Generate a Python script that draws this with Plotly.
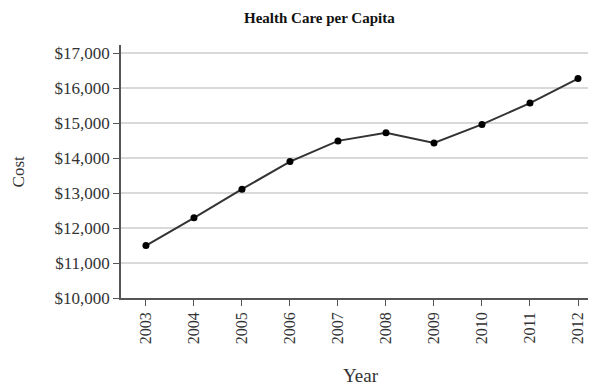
import plotly.graph_objects as go

years = ["2003", "2004", "2005", "2006", "2007", "2008", "2009", "2010", "2011", "2012"]
cost = [11500, 12290, 13110, 13900, 14490, 14720, 14430, 14960, 15570, 16270]
y_ticks = [10000, 11000, 12000, 13000, 14000, 15000, 16000, 17000]
y_tick_labels = ["$10,000", "$11,000", "$12,000", "$13,000", "$14,000", "$15,000", "$16,000", "$17,000"]

font = "Liberation Serif"
fig = go.Figure(go.Scatter(
    x=list(range(len(years))), y=cost, mode="lines+markers",
    line=dict(color="#333333", width=2),
    marker=dict(color="#000000", size=7),
))
fig.update_layout(
    width=588, height=379,
    margin=dict(l=113, r=0, t=37, b=89),
    paper_bgcolor="white", plot_bgcolor="white",
    font=dict(family=font, color="#333333", size=16),
    showlegend=False,
    annotations=[
        dict(text="<b>Health Care per Capita</b>", xref="paper", yref="paper", x=0.417, y=1.107,
             xanchor="center", yanchor="middle", showarrow=False,
             font=dict(family=font, size=15, color="#111111")),
        dict(text="Year", xref="paper", yref="paper", x=0.505, y=-0.305,
             xanchor="center", yanchor="middle", showarrow=False,
             font=dict(family=font, size=19, color="#333333")),
        dict(text="Cost", xref="paper", yref="paper", x=-0.238, y=0.498, textangle=-90,
             xanchor="left", yanchor="middle", showarrow=False, borderpad=0,
             font=dict(family=font, size=17, color="#333333")),
    ],
)
fig.update_xaxes(
    tickmode="array", tickvals=list(range(len(years))), ticktext=years, tickangle=-90,
    range=[-0.52, 9.375], showgrid=False, zeroline=False,
    showline=True, linecolor="#555555", linewidth=1.5,
    ticks="outside", ticklen=6, tickcolor="#555555",
    tickfont=dict(family=font, size=16, color="#333333"),
)
fig.update_yaxes(
    tickmode="array", tickvals=y_ticks, ticktext=y_tick_labels, range=[10000, 17230],
    showgrid=True, gridcolor="#d9d9d9", gridwidth=1.5, zeroline=False,
    showline=True, linecolor="#555555", linewidth=1.5,
    ticks="outside", ticklen=6, tickcolor="#555555",
    tickfont=dict(family=font, size=17, color="#333333"),
)
fig.write_html("out.html")
